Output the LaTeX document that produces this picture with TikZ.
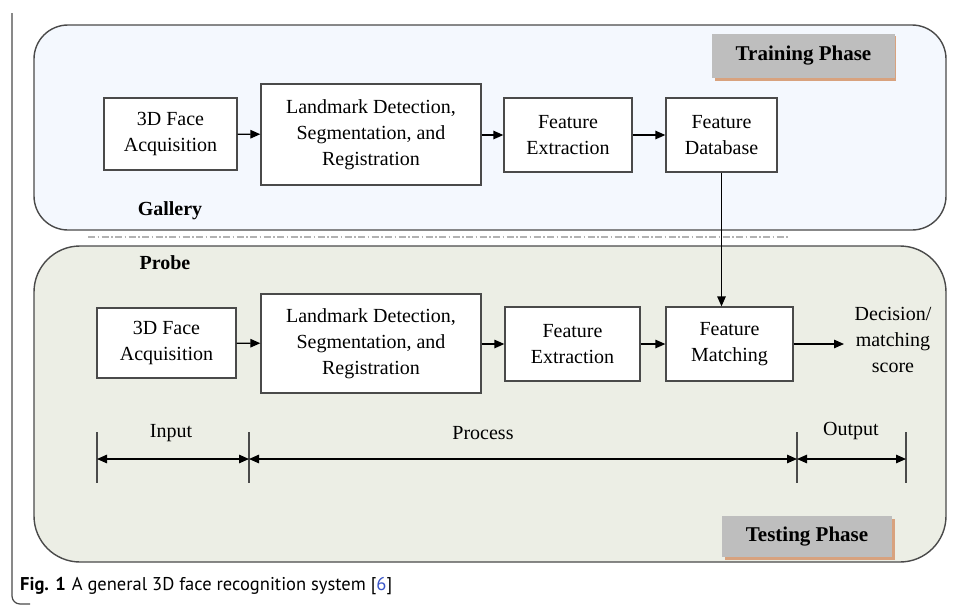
\documentclass[tikz,border=0pt]{standalone}
\usepackage{fontspec}
\setmainfont{Liberation Serif}
\newfontfamily\capfont{PT Sans}
\usetikzlibrary{arrows.meta,positioning,calc}
\definecolor{galfill}{HTML}{F4F8FE}
\definecolor{probfill}{HTML}{ECEEE5}
\definecolor{frame}{HTML}{4A4A4A}
\definecolor{phasefill}{HTML}{BEBEBE}
\definecolor{phaseshadow}{HTML}{D8A27E}
\definecolor{refblue}{HTML}{3A55C8}
\begin{document}
\begin{tikzpicture}[x=1pt,y=-1pt,
  box/.style={draw=frame,line width=1.3pt,fill=white,align=center,inner sep=0pt,
    font=\fontsize{20}{26}\selectfont},
  region/.style={draw=frame,line width=1.4pt},
  flow/.style={line width=1.3pt,-{Triangle[length=10pt,width=8.5pt]}},
  dim/.style={line width=1.3pt,{Triangle[length=10pt,width=8.5pt]}-{Triangle[length=10pt,width=8.5pt]}},
  tick/.style={line width=1.1pt,draw=frame},
  lbl/.style={font=\fontsize{20}{26}\selectfont,align=center,inner sep=0pt},
  blbl/.style={font=\fontsize{20}{26}\selectfont\bfseries,inner sep=0pt},
  phase/.style={fill=phasefill,font=\fontsize{21}{26}\selectfont\bfseries,inner sep=0pt,
    minimum height=44pt}
]
\useasboundingbox (0,0) rectangle (958,606);
\fill[white] (0,0) rectangle (958,606);
% outer frame bracket
\draw[line width=1.2pt,draw=frame,rounded corners=8pt] (12,13) -- (12,604) -- (30,604);
% regions
\draw[region,fill=galfill,rounded corners=34pt] (34,25) rectangle (946,230);
\draw[region,fill=probfill,rounded corners=46pt] (34,246) rectangle (946,562);
% separator
\draw[line width=1.6pt,draw=gray!60,dash pattern=on 7pt off 2.5pt on 1.5pt off 2.5pt] (88,237) -- (790,237);
% phase labels
\fill[phaseshadow] (715,36) rectangle (896,81);
\node[phase,minimum width=183pt] (tp) at (803.5,55.5) {Training Phase};
\fill[phaseshadow] (725,519) rectangle (895,560);
\node[phase,minimum width=170pt,minimum height=41pt] (sp) at (807,536.5) {Testing Phase};
% gallery row
\node[box,minimum width=133pt,minimum height=72pt] (ga) at (170.5,134) {3D Face\\Acquisition};
\node[box,minimum width=220pt,minimum height=101pt] (gl) at (371,134.5) {Landmark Detection,\\Segmentation, and\\Registration};
\node[box,minimum width=128pt,minimum height=74pt] (ge) at (568,135) {Feature\\Extraction};
\node[box,minimum width=111pt,minimum height=74pt] (gd) at (721.5,135) {Feature\\Database};
\draw[flow] (ga) -- (gl);
\draw[flow] (gl.east |- ge) -- (ge);
\draw[flow] (ge) -- (gd);
\node[blbl] (gal) at (170,211) {Gallery};
\node[blbl] (prb) at (165,263) {Probe};
% probe row
\node[box,minimum width=139pt,minimum height=70pt] (pa) at (166.5,343) {3D Face\\Acquisition};
\node[box,minimum width=220pt,minimum height=99pt] (pl) at (371,343.5) {Landmark Detection,\\Segmentation, and\\Registration};
\node[box,minimum width=135pt,minimum height=74pt] (pe) at (572.5,344) {Feature\\Extraction};
\node[box,minimum width=127pt,minimum height=74pt] (pm) at (729.5,344) {Feature\\Matching};
\node[lbl] (dec) at (893,340) {Decision/\\matching\\score};
\coordinate (decin) at (844,344);
\draw[flow] (pa) -- (pl);
\draw[flow] (pl.east |- pe) -- (pe);
\draw[flow] (pe) -- (pm);
\draw[flow] (pm.east) -- (decin);
\draw[flow] (gd.south) -- (gd.south |- pm.north);
% dimension lines
\coordinate (t1) at (97,459);
\coordinate (t2) at (249,459);
\coordinate (t3) at (797,459);
\coordinate (t4) at (906,459);
\foreach \c in {t1,t2,t3,t4} \draw[tick] ($(\c)+(0,-27)$) -- ($(\c)+(0,24)$);
\draw[dim] (t1) -- (t2);
\draw[dim] (t2) -- (t3);
\draw[dim] (t3) -- (t4);
\node[lbl] (inp) at (171,433) {Input};
\node[lbl] (proc) at (483,433) {Process};
\node[lbl] (outp) at (851,431) {Output};
% caption
\node[anchor=west,inner sep=0pt,font=\capfont\fontsize{18.5}{20}\selectfont] (cap) at (20,586)
  {\textbf{Fig. 1}\hspace{6pt}A general 3D face recognition system [{\color{refblue}6}]};
\end{tikzpicture}
\end{document}
